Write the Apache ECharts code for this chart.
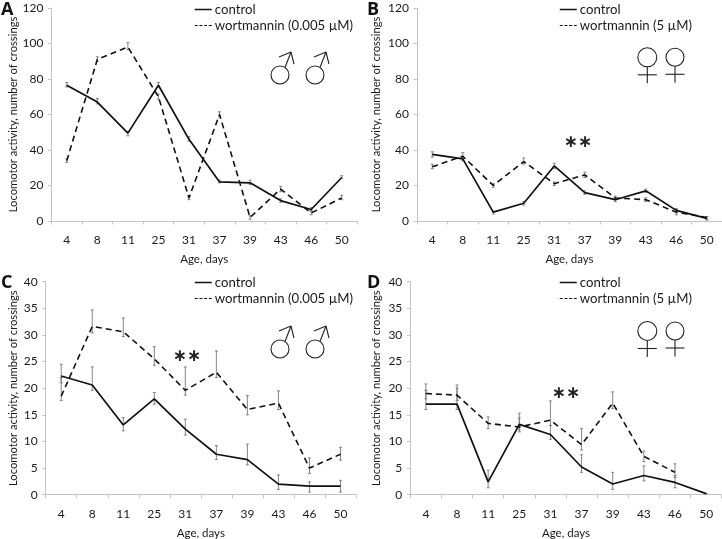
<!DOCTYPE html>
<html><head><meta charset="utf-8">
<style>html,body{margin:0;padding:0;background:#fff}#c{width:722px;height:539px}</style>
<script src="https://cdn.jsdelivr.net/npm/echarts@6/dist/echarts.min.js"></script>
</head><body><div id="c"></div>
<script>
const categories = ['4','8','11','25','31','37','39','43','46','50'];
const yTicksTop = 120, yTicksBottom = 40;

const aControl = [76.5,67,49.5,76.5,46,22,21.5,11.5,6.5,24.5];
const aControlHi = [78,69,50.5,78,47.5,23,23,12.5,7.5,25.5];
const aControlLo = [75.5,66,48,75.5,45,21.5,20.5,10.5,5.5,24];
const aWort = [34,91,98,70,13,60,2,18,4.5,13];
const aWortHi = [35,92.5,100.5,71.5,14.5,61.5,3,19.5,6,14.5];
const aWortLo = [33,90,96.5,68.5,12,58.5,1,16.5,3.5,12];

const bControl = [37.5,35,5,10,31,16,12,17,6,1.5];
const bControlHi = [39,36,5.5,11,32.5,17,13,18,7,2.5];
const bControlLo = [36,34,4,9,29.5,15,11,16,5,0.5];
const bWort = [30.5,36.5,20,33.5,21,26,13,12,5,2];
const bWortHi = [32,38.5,21,35.5,22,27.5,14,13,6.5,2.5];
const bWortLo = [29.5,35,19,32,20,24.5,12,11,3.5,1];

const cControl = [22.3,20.6,13.1,18,12.3,7.6,6.6,2,1.6,1.6];
const cControlHi = [24.5,24,14.5,19.2,14.2,9.2,9.5,3.7,2.4,2.7];
const cControlLo = [21,19.6,12,17,11.2,6.6,5.6,1,0.5,0.5];
const cWort = [18.5,31.6,30.6,25.5,19.6,23,16,17.2,5,7.6];
const cWortHi = [22,34.7,33.2,27.8,24,27,18.6,19.5,6.9,8.9];
const cWortLo = [17.7,30.4,29.7,24.3,18.7,22,15,16,4,6.5];

const dControl = [17,17,2.4,13.2,11.3,5.2,2,3.6,2.3,0.2];
const dControlHi = [19.6,20,4.6,15.3,13,7.5,4.2,5.4,3.6,0.2];
const dControlLo = [16,16,1.3,12.2,10.4,4.2,1,2.6,1.3,0.2];
const dWort = [19,18.7,13.4,12.7,14,9.4,17.2,7.2,4.2];
const dWortHi = [20.8,20.6,14.6,14.4,17.6,12.4,19.3,8.2,5.8];
const dWortLo = [18,17.7,12.4,11.8,13,8.4,16.2,6.2,3.2];

const FONT = 'Lato';
const TXT = '#1a1a1a';
const panels = [
 {l:'A',rect:[51.5,8,357,221],max:yTicksTop,step:20,wn:'wortmannin (0.005 µM)',s:[aControl,aControlHi,aControlLo,aWort,aWortHi,aWortLo],lgX:194,lgY:3,yName:13,xNameY:259,lx:1,ly:1},
 {l:'B',rect:[417,8,722,221],max:yTicksTop,step:20,wn:'wortmannin (5 µM)',s:[bControl,bControlHi,bControlLo,bWort,bWortHi,bWortLo],lgX:559,lgY:3,yName:376,xNameY:259,lx:367,ly:1},
 {l:'C',rect:[45.7,281.7,356,494.7],max:yTicksBottom,step:5,wn:'wortmannin (0.005 µM) ',s:[cControl,cControlHi,cControlLo,cWort,cWortHi,cWortLo],lgX:194,lgY:276,yName:13,xNameY:533,lx:1,ly:274},
 {l:'D',rect:[410.3,281.7,721.7,494.7],max:yTicksBottom,step:5,wn:'wortmannin (5 µM) ',s:[dControl,dControlHi,dControlLo,dWort,dWortHi,dWortLo],lgX:559,lgY:276,yName:376,xNameY:533,lx:367,ly:274}
];

function errSeries(hi,lo,i){
  return {type:'custom',xAxisIndex:i,yAxisIndex:i,silent:true,z:1,
    data:hi.map((h,k)=>[k,h,lo[k]]),
    encode:{x:0,y:[1,2]},
    renderItem:(p,api)=>{
      const a=api.coord([api.value(0),api.value(1)]),b=api.coord([api.value(0),api.value(2)]);
      const st={stroke:'#777',lineWidth:0.9,fill:'none'};
      return {type:'group',children:[
        {type:'line',shape:{x1:a[0],y1:a[1],x2:b[0],y2:b[1]},style:st},
        {type:'line',shape:{x1:a[0]-1.5,y1:a[1],x2:a[0]+1.5,y2:a[1]},style:st},
        {type:'line',shape:{x1:b[0]-1.5,y1:b[1],x2:b[0]+1.5,y2:b[1]},style:st}
      ]};
    }};
}

const grid=[],xAxis=[],yAxis=[],series=[],legend=[],graphic=[];
const stroke={stroke:'#222',lineWidth:1.1,fill:'none'};
function ln(x1,y1,x2,y2){graphic.push({type:'line',shape:{x1,y1,x2,y2},style:stroke,z:5});}
function male(cx,cy){
  graphic.push({type:'circle',shape:{cx,cy,r:9},style:stroke,z:5});
  ln(cx+5,cy-7.5,cx+11,cy-23); ln(cx+11,cy-23,cx-1,cy-18); ln(cx+11,cy-23,cx+14,cy-11);
}
function female(cx,cy,r){
  graphic.push({type:'circle',shape:{cx,cy,r},style:stroke,z:5});
  ln(cx,cy+r,cx,cy+r+16.5); ln(cx-9.5,cy+r+8,cx+9.5,cy+r+8);
}
panels.forEach((p,i)=>{
  const [x0,y0,x1,y1]=p.rect;
  grid.push({left:x0,top:y0,width:x1-x0,height:y1-y0,containLabel:false});
  xAxis.push({type:'category',gridIndex:i,data:categories,boundaryGap:true,
    axisLine:{lineStyle:{color:'#c4c4c4',width:1}},
    axisTick:{show:true,length:3.5,alignWithLabel:false,lineStyle:{color:'#c4c4c4'}},
    axisLabel:{color:TXT,fontFamily:FONT,fontSize:12,margin:13,interval:0}});
  yAxis.push({type:'value',gridIndex:i,min:0,max:p.max,interval:p.step,
    splitLine:{show:false},
    axisLine:{show:true,lineStyle:{color:'#c4c4c4',width:1}},
    axisTick:{show:true,length:3.5,lineStyle:{color:'#c4c4c4'}},
    axisLabel:{color:TXT,fontFamily:FONT,fontSize:12,margin:8}});
  const [c,cH,cL,w,wH,wL]=p.s;
  series.push(errSeries(cH,cL,i),errSeries(wH,wL,i));
  series.push({type:'line',name:'control',xAxisIndex:i,yAxisIndex:i,data:c,showSymbol:false,symbol:'none',silent:true,z:3,
    itemStyle:{color:'#111'},lineStyle:{color:'#111',width:1.7}});
  series.push({type:'line',name:p.wn,xAxisIndex:i,yAxisIndex:i,data:w,showSymbol:false,symbol:'none',silent:true,z:3,
    itemStyle:{color:'#111'},lineStyle:{color:'#111',width:1.6,type:[6,4]}});
  legend.push({data:[
      {name:'control',lineStyle:{color:'#111',width:1.5}},
      {name:p.wn,lineStyle:{color:'#111',width:1,type:[3,1.7]}}
    ],orient:'vertical',left:p.lgX,top:p.lgY,itemGap:3,itemWidth:17,itemHeight:14,
    padding:0,selectedMode:false,
    itemStyle:{color:'transparent',borderColor:'transparent',borderWidth:0,opacity:0},
    textStyle:{fontFamily:FONT,fontSize:13.2,color:TXT,padding:[0,0,0,-2]}});
  graphic.push({type:'text',left:p.lx,top:p.ly,style:{text:p.l,font:'bold 18px "Open Sans"',fill:'#111'}});
  graphic.push({type:'text',x:p.yName,y:(y0+y1)/2,rotation:Math.PI/2,originX:0,originY:0,
    style:{text:'Locomotor activity, number of crossings',font:'11.2px '+FONT,fill:TXT,align:'center',verticalAlign:'middle'}});
  graphic.push({type:'text',x:(x0+x1)/2,y:p.xNameY,style:{text:'Age, days',font:'11.5px '+FONT,fill:TXT,align:'center',verticalAlign:'middle'}});
});
// significance marks
[[578,143],[187,357],[566,394]].forEach(([x,y])=>graphic.push({type:'text',x,y,style:{text:'∗∗',font:'bold 17px "DejaVu Sans"',fill:'#222',align:'center',verticalAlign:'middle'}}));
// sex symbols
male(280,75);male(315,75);male(280,349);male(315,349);
female(647.3,57.3,9.5);female(675,57.3,9);female(647.3,331,9.5);female(675,331,9);

const chart=echarts.init(document.getElementById('c'),null,{renderer:'canvas'});
chart.setOption({animation:false,backgroundColor:'#fff',grid,xAxis,yAxis,series,legend,graphic});
</script></body></html>
